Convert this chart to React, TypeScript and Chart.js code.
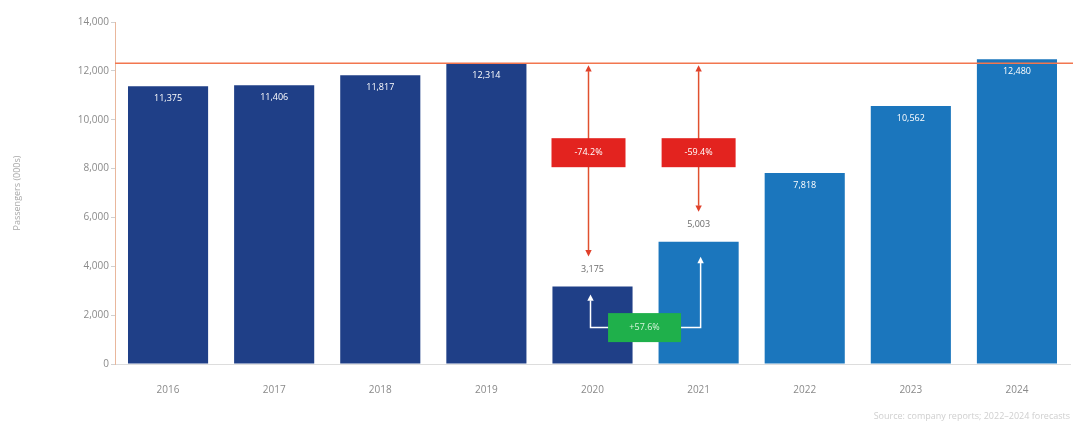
import React, { useEffect, useRef } from "react";
import { Chart, registerables } from "chart.js";

Chart.register(...registerables);

const categories = ["2016", "2017", "2018", "2019", "2020", "2021", "2022", "2023", "2024"];
const values = [11375, 11406, 11817, 12314, 3175, 5003, 7818, 10562, 12480];
const valueLabels = ["11,375", "11,406", "11,817", "12,314", "3,175", "5,003", "7,818", "10,562", "12,480"];
const yTicks = [0, 2000, 4000, 6000, 8000, 10000, 12000, 14000];
const dropLabels = ["-74.2%", "-59.4%"];
const recoveryLabel = "+57.6%";
const yTitle = "Passengers (000s)";
const sourceNote = "Source: company reports; 2022–2024 forecasts";

const NAVY = "#1f3f87";
const BLUE = "#1b76bd";
const RED_LINE = "#f2764f";
const RED_BOX = "#e3231f";
const GREEN_BOX = "#1fb04b";

function arrowHead(ctx: CanvasRenderingContext2D, x: number, y: number, dir: number, color: string, size = 5) {
  ctx.save();
  ctx.fillStyle = color;
  ctx.beginPath();
  ctx.moveTo(x, y);
  ctx.lineTo(x - size * 0.8, y - dir * size * 1.6);
  ctx.lineTo(x + size * 0.8, y - dir * size * 1.6);
  ctx.closePath();
  ctx.fill();
  ctx.restore();
}

const annotationPlugin = {
  id: "annotations",
  afterDatasetsDraw(chart: any) {
    const ctx: CanvasRenderingContext2D = chart.ctx;
    const xs = chart.scales.x;
    const ys = chart.scales.y;
    const area = chart.chartArea;
    const meta = chart.getDatasetMeta(0);

    // value labels
    ctx.save();
    ctx.font = "9px 'Open Sans', sans-serif";
    ctx.textAlign = "center";
    ctx.textBaseline = "middle";
    meta.data.forEach((bar: any, i: number) => {
      if (i === 4 || i === 5) {
        ctx.fillStyle = "#6b6b6b";
        ctx.fillText(valueLabels[i], bar.x, bar.y - 17);
      } else {
        ctx.fillStyle = "#ffffff";
        ctx.fillText(valueLabels[i], bar.x, bar.y + 12);
      }
    });
    ctx.restore();

    // reference line at 2019 level
    const refY = ys.getPixelForValue(values[3]);
    ctx.save();
    ctx.strokeStyle = RED_LINE;
    ctx.lineWidth = 1.5;
    ctx.beginPath();
    ctx.moveTo(area.left, refY);
    ctx.lineTo(chart.width, refY);
    ctx.stroke();
    ctx.restore();

    // red drop arrows
    [4, 5].forEach((idx, k) => {
      const x = xs.getPixelForValue(idx) - (k === 0 ? 4 : 0);
      const topY = refY + 2;
      const botY = ys.getPixelForValue(values[idx]) - 30;
      ctx.save();
      ctx.strokeStyle = "#e0502f";
      ctx.lineWidth = 1.5;
      ctx.beginPath();
      ctx.moveTo(x, topY + 6);
      ctx.lineTo(x, botY - 6);
      ctx.stroke();
      ctx.restore();
      arrowHead(ctx, x, topY, -1, "#e0402a", 4);
      arrowHead(ctx, x, botY, 1, "#e0402a", 4);

      const boxY = ys.getPixelForValue(8650);
      const w = 74, h = 29;
      ctx.save();
      ctx.fillStyle = RED_BOX;
      ctx.fillRect(x - w / 2, boxY - h / 2, w, h);
      ctx.fillStyle = "#ffffff";
      ctx.font = "9px 'Open Sans', sans-serif";
      ctx.textAlign = "center";
      ctx.textBaseline = "middle";
      ctx.fillText(dropLabels[k], x, boxY);
      ctx.restore();
    });

    // white recovery bracket
    const x1 = xs.getPixelForValue(4) - 2;
    const x2 = xs.getPixelForValue(5) + 2;
    const midY = ys.getPixelForValue(1490);
    const t1 = ys.getPixelForValue(values[4]) + 8;
    const t2 = ys.getPixelForValue(values[5]) + 15;
    ctx.save();
    ctx.strokeStyle = "#ffffff";
    ctx.lineWidth = 1.5;
    ctx.beginPath();
    ctx.moveTo(x1, t1 + 6);
    ctx.lineTo(x1, midY);
    ctx.lineTo(x2, midY);
    ctx.lineTo(x2, t2 + 6);
    ctx.stroke();
    ctx.restore();
    arrowHead(ctx, x1, t1, -1, "#ffffff", 4);
    arrowHead(ctx, x2, t2, -1, "#ffffff", 4);

    const gx = (xs.getPixelForValue(4) + xs.getPixelForValue(5)) / 2 - 1;
    const gw = 73, gh = 29;
    ctx.save();
    ctx.fillStyle = GREEN_BOX;
    ctx.fillRect(gx - gw / 2, midY - gh / 2, gw, gh);
    ctx.fillStyle = "#d8f5dc";
    ctx.font = "9px 'Open Sans', sans-serif";
    ctx.textAlign = "center";
    ctx.textBaseline = "middle";
    ctx.fillText(recoveryLabel, gx, midY);
    ctx.restore();

    // source note
    ctx.save();
    ctx.fillStyle = "#cfcfcf";
    ctx.font = "9px 'Open Sans', sans-serif";
    ctx.textAlign = "right";
    ctx.textBaseline = "middle";
    ctx.fillText(sourceNote, area.right, chart.height - 6);
    ctx.restore();
  },
};

export default function App() {
  const ref = useRef<HTMLCanvasElement | null>(null);

  useEffect(() => {
    if (!ref.current) return;
    const chart = new Chart(ref.current, {
      type: "bar",
      data: {
        labels: categories,
        datasets: [
          {
            data: values,
            backgroundColor: values.map((_, i) => (i <= 4 ? NAVY : BLUE)),
            barPercentage: 0.755,
            categoryPercentage: 1,
          },
        ],
      },
      options: {
        animation: false,
        responsive: true,
        maintainAspectRatio: false,
        layout: { padding: { left: 0, right: 11, top: 14, bottom: 0 } },
        plugins: { legend: { display: false }, tooltip: { enabled: false } },
        scales: {
          x: {
            grid: { display: false },
            border: { color: "#dddddd" },
            ticks: { color: "#8a8a8a", font: { size: 10, family: "'Open Sans', sans-serif" }, padding: 12 },
            afterFit: (s: any) => {
              s.height = 58;
            },
          },
          y: {
            min: 0,
            max: 14000,
            afterBuildTicks: (s: any) => {
              s.ticks = yTicks.map((v) => ({ value: v }));
            },
            grid: { drawOnChartArea: false, tickLength: 4, color: "#d0d0d0" },
            border: { color: "#e9b79c" },
            ticks: {
              color: "#8a8a8a",
              font: { size: 10, family: "'Open Sans', sans-serif" },
              padding: 2,
              callback: (v: any) => Number(v).toLocaleString("en-US"),
            },
            title: {
              display: true,
              text: yTitle,
              color: "#a8a8a8",
              font: { size: 9, family: "'Open Sans', sans-serif" },
            },
            afterFit: (s: any) => {
              s.width = 107;
            },
          },
        },
      },
      plugins: [annotationPlugin],
    });
    return () => chart.destroy();
  }, []);

  return (
    <div style={{ width: 1073, height: 414 }}>
      <canvas ref={ref} />
    </div>
  );
}
